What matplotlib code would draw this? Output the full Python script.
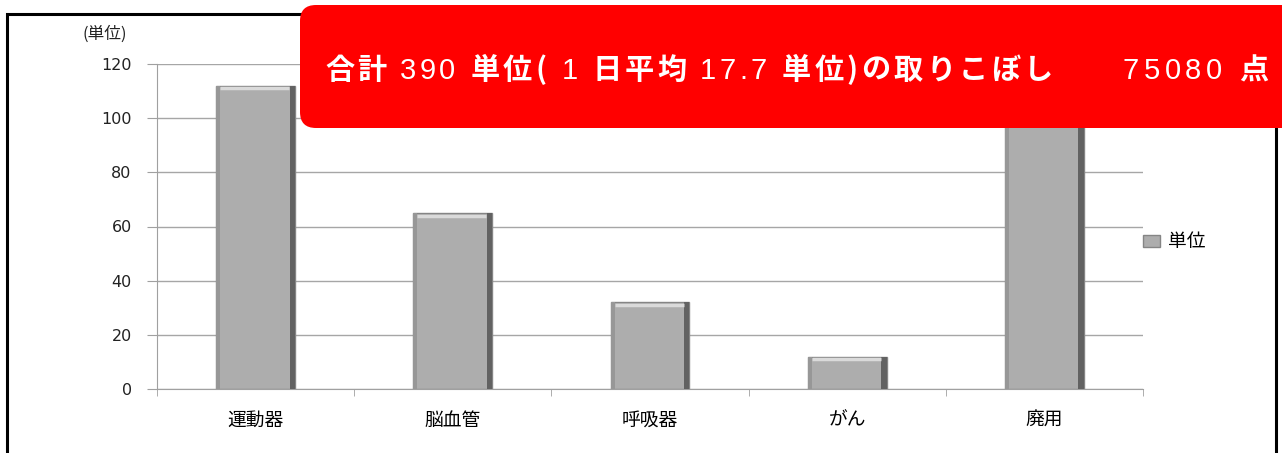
import matplotlib
matplotlib.use("Agg")
import matplotlib.pyplot as plt
from matplotlib.patches import FancyBboxPatch, Rectangle
import numpy as np

plt.rcParams['font.family'] = ['DejaVu Sans', 'Noto Sans CJK JP']

# data
categories = ['運動器', '脳血管', '呼吸器', 'がん', '廃用']
units = [112, 65, 32, 12, 115]   # 廃用 is hidden under the red box, estimated
yticks = [0, 20, 40, 60, 80, 100, 120]
series_name = '単位'

fig = plt.figure(figsize=(12.82, 4.53), dpi=100)
ax = fig.add_axes([157/1282, 64/453, 986/1282, 325/453])

x = np.arange(len(categories))
vals = np.array(units)
bw = 0.4
bars = ax.bar(x, vals, width=bw, color='#adadad', edgecolor='#858585',
              linewidth=1, zorder=3, label=series_name)
# bevel look
ax.bar(x + bw/2 - 0.014, vals, width=0.028, color='#626262', zorder=4)
ax.bar(x - bw/2 + 0.01, vals, width=0.02, color='#979797', zorder=4)
ax.hlines(vals - 1.0, x - bw/2 + 0.02, x + bw/2 - 0.03, color='#dadada', lw=2.5, zorder=5)

ax.set_xlim(-0.5, len(categories) - 0.5)
ax.set_ylim(0, 120)
ax.set_yticks(yticks)
ax.yaxis.grid(True, color='#a6a6a6', linewidth=1)
ax.set_axisbelow(True)
for s in ['top', 'right']:
    ax.spines[s].set_visible(False)
ax.spines['left'].set_color('#a0a0a0')
ax.spines['bottom'].set_color('#a0a0a0')
ax.tick_params(axis='y', length=7.2, color='#a0a0a0', pad=11, labelsize=11.5, labelcolor='#222222')

ax.set_xticks(x)
ax.set_xticklabels(categories, fontsize=13.5, family=['Noto Sans CJK JP'])
ax.set_xticks(np.arange(len(categories) + 1) - 0.5, minor=True)
ax.tick_params(axis='x', which='major', length=0, pad=15)
ax.tick_params(axis='x', which='minor', length=5, color='#a0a0a0')

fig.text(82/1282, 1 - 34/453, '(単位)', fontsize=12, va='center', ha='left',
         family=['Noto Sans CJK JP'], color='#222222')

ax.legend(handles=[bars], loc='center left', bbox_to_anchor=(1126/1282, 1 - 242/453),
          bbox_transform=fig.transFigure, frameon=False, handlelength=0.9, handleheight=0.6,
          handletextpad=0.45, prop={'family': 'Noto Sans CJK JP', 'size': 13.5})

# outer frame
fig.patches.append(Rectangle((0.07, -0.2), 12.69, 4.59, transform=fig.dpi_scale_trans,
                             fill=False, edgecolor='black', linewidth=2.2, zorder=1))

# red banner
fig.patches.append(FancyBboxPatch((3.0, 3.25), 10.0, 1.23, boxstyle='round,pad=0,rounding_size=0.16',
                                  transform=fig.dpi_scale_trans, facecolor='#ff0000',
                                  edgecolor='none', zorder=10))

cjk = ['Noto Sans CJK JP']
num = ['Liberation Sans', 'Noto Sans CJK JP']
left_pieces = [
    ('合計 ', cjk, 'bold'),
    ('390 ', num, 'normal'),
    ('単位(', cjk, 'bold'),
    (' 1 ', num, 'normal'),
    ('日平均 ', cjk, 'bold'),
    ('17.7 ', num, 'normal'),
    ('単位)の取りこぼし', cjk, 'bold'),
]
right_pieces = [
    ('75080 ', num, 'normal'),
    ('点', cjk, 'bold'),
]
fs = 21
base_y = 3.74  # inches from bottom


def place(pieces, x0, x1):
    # lay out character by character, spreading them evenly between x0 and x1
    r = fig.canvas.get_renderer()
    texts = []
    for txt, fam, wt in pieces:
        for ch in txt:
            t = fig.text(0, base_y, ch, transform=fig.dpi_scale_trans, color='white',
                         fontsize=fs, family=fam, weight=wt, va='baseline', zorder=11)
            texts.append(t)
    widths = [t.get_window_extent(renderer=r).width / fig.dpi for t in texts]
    track = (x1 - x0 - sum(widths)) / max(len(texts) - 1, 1)
    xs = x0
    for t, w in zip(texts, widths):
        t.set_x(xs)
        xs += w + track


place(left_pieces, 3.25, 10.53)
place(right_pieces, 11.23, 12.68)

plt.savefig('out.png', dpi=100)
